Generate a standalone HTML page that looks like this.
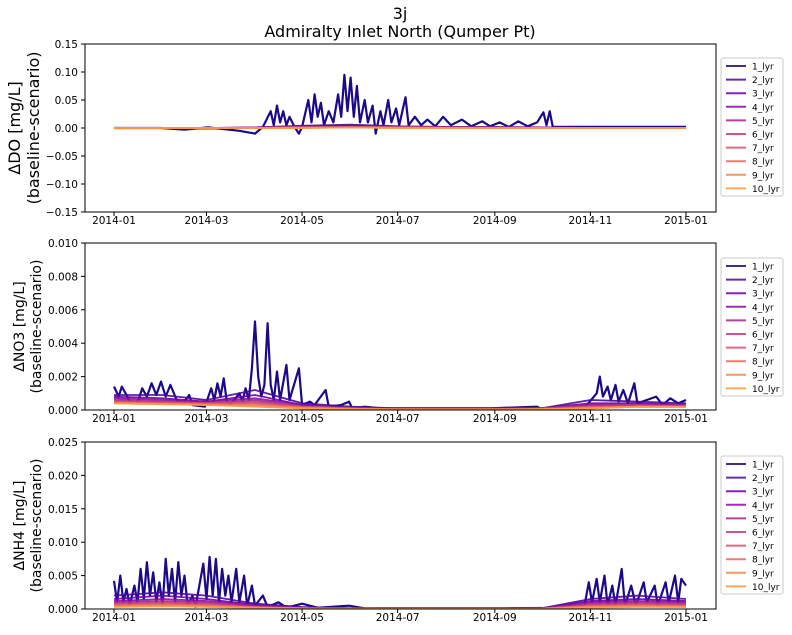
<!DOCTYPE html>
<html><head><meta charset="utf-8"><style>
body{margin:0;background:#fff;font-family:"DejaVu Sans","Liberation Sans",sans-serif}
svg text{font-family:"DejaVu Sans","Liberation Sans",sans-serif}
</style></head><body>
<svg id="fig" width="792" height="631" viewBox="0 0 792 631" xmlns="http://www.w3.org/2000/svg">
<text x="400" y="19" font-size="16" text-anchor="middle">3j</text>
<text x="400" y="37" font-size="16" text-anchor="middle">Admiralty Inlet North (Qumper Pt)</text>
</svg>
<script>
const xTickLabels=["2014-01","2014-03","2014-05","2014-07","2014-09","2014-11","2015-01"];
const xTickDays=[0,59,120,181,243,304,365];
const monthDays=[0,31,59,90,120,151,181,212,243,273,304,334,365];
const layerNames=["1_lyr","2_lyr","3_lyr","4_lyr","5_lyr","6_lyr","7_lyr","8_lyr","9_lyr","10_lyr"];
const layerColors=["#1a0a8a","#4a08a0","#6a00a8","#8a0ca5","#a8238f","#c03a7f","#d4526e","#e66b5d","#f2844b","#f99b3e"];

const doL1=[[0,0],[30,0],[45,-0.003],[60,0.001],[80,-0.005],[90,-0.01],[95,0.002],[100,0.03],[102,0.005],[104,0.04],[106,0.01],[108,0.03],[110,0.005],[112,0.02],[115,0.003],[118,-0.01],[120,0.002],[124,0.05],[126,0.01],[128,0.06],[130,0.02],[132,0.045],[134,0.005],[137,0.03],[140,0.01],[143,0.06],[145,0.02],[147,0.095],[149,0.03],[151,0.09],[153,0.02],[155,0.075],[157,0.01],[160,0.05],[162,0.01],[165,0.04],[167,-0.01],[170,0.03],[172,0.005],[175,0.05],[177,0.01],[180,0.035],[182,0.005],[186,0.055],[188,0.005],[192,0.02],[196,0.005],[200,0.015],[205,0.003],[210,0.02],[215,0.005],[222,0.015],[228,0.003],[235,0.012],[240,0.003],[246,0.01],[252,0.002],[258,0.012],[264,0.003],[270,0.01],[274,0.028],[276,0.005],[278,0.03],[280,0.002],[290,0.002],[365,0.002]];
const no3L1=[[0,0.0014],[3,0.0008],[5,0.0014],[8,0.0009],[10,0.0005],[15,0.0004],[18,0.0013],[21,0.0008],[24,0.0016],[27,0.0009],[30,0.0017],[33,0.0008],[36,0.0015],[40,0.0006],[44,0.0004],[48,0.0009],[50,0.0003],[58,0.0002],[62,0.0013],[64,0.0006],[66,0.0016],[68,0.0008],[70,0.0019],[72,0.0005],[74,0.0003],[80,0.001],[82,0.0005],[84,0.0013],[86,0.0006],[88,0.0025],[90,0.0053],[92,0.002],[94,0.0008],[96,0.0015],[98,0.0052],[100,0.0015],[102,0.0006],[104,0.0023],[106,0.0006],[110,0.0027],[112,0.0006],[118,0.0025],[120,0.0003],[125,0.0005],[128,0.0003],[135,0.0012],[137,0.0002],[145,0.0003],[150,0.0005],[152,0.0001],[160,0.0002],[170,0.0001],[200,0.0001],[240,0.0001],[270,0.0002],[272,0.0001],[300,0.0001],[308,0.001],[310,0.002],[312,0.0008],[315,0.0014],[317,0.0006],[320,0.0015],[322,0.0005],[325,0.0012],[328,0.0004],[332,0.0016],[334,0.0004],[340,0.0006],[346,0.0008],[350,0.0003],[355,0.0007],[360,0.0004],[365,0.0006]];
const nh4L1=[[0,0.0042],[2,0.001],[4,0.005],[6,0.001],[8,0.003],[10,0.0005],[13,0.0035],[15,0.001],[17,0.006],[19,0.0015],[21,0.007],[23,0.002],[25,0.0055],[27,0.001],[29,0.004],[31,0.0005],[33,0.0075],[35,0.002],[37,0.006],[39,0.001],[41,0.007],[43,0.002],[45,0.005],[47,0.0005],[50,0.002],[52,0.0003],[57,0.0068],[59,0.0015],[61,0.0078],[63,0.002],[65,0.0075],[67,0.001],[69,0.006],[71,0.002],[73,0.005],[75,0.001],[78,0.006],[80,0.001],[83,0.005],[85,0.0005],[88,0.0035],[90,0.0005],[95,0.002],[98,0.0003],[105,0.001],[110,0.0002],[120,0.0008],[130,0.0002],[150,0.0005],[160,0.0001],[200,0.0001],[250,0.0001],[300,0.0002],[303,0.004],[305,0.001],[308,0.0045],[310,0.001],[313,0.005],[315,0.0005],[318,0.0035],[320,0.0005],[324,0.006],[326,0.0005],[330,0.0035],[333,0.0005],[338,0.004],[340,0.001],[345,0.0035],[347,0.0005],[352,0.004],[354,0.001],[358,0.005],[360,0.001],[362,0.0045],[365,0.0035]];

const doLayers=[
[0,0,-0.001,0.001,0.004,0.006,0.003,0.002,0.002,0.001,0,0,0],
[0,0,-0.001,0.001,0.003,0.004,0.002,0.002,0.001,0.001,0,0,0],
[0,0,0,0.001,0.002,0.003,0.002,0.001,0.001,0.001,0,0,0],
[0,0,0,0.001,0.002,0.002,0.002,0.001,0.001,0,0,0,0],
[0,0,0,0,0.001,0.002,0.001,0.001,0.001,0,0,0,0],
[0,0,0,0,0.001,0.001,0.001,0.001,0,0,0,0,0],
[0,0,0,0,0.001,0.001,0.001,0,0,0,0,0,0],
[0,0,0,0,0,0.001,0,0,0,0,0,0,0],
[0,0,0,0,0,0.001,0,0,0,0,0,0,0]];
const no3Layers=[
[0.0009,0.0009,0.0006,0.0012,0.0004,0.0002,0.0001,0.0001,0.0001,0.0001,0.0006,0.0005,0.0004],
[0.0008,0.0007,0.0005,0.0009,0.0003,0.0001,0.0001,0.0001,0.0001,0.0001,0.0004,0.0004,0.0003],
[0.0007,0.0006,0.0005,0.0007,0.0003,0.0001,0.0001,0.0001,0.0001,0.0001,0.0003,0.0003,0.0003],
[0.0006,0.0005,0.0004,0.0006,0.0002,0.0001,0.00005,0.00005,0.00005,0.0001,0.0003,0.0003,0.0003],
[0.0005,0.0005,0.0004,0.0005,0.0002,0.0001,0.00005,0.00005,0.00005,0.0001,0.0002,0.0003,0.0002],
[0.0005,0.0004,0.0004,0.0004,0.0002,0.0001,0.00005,0.00005,0.00005,0.00005,0.0002,0.0002,0.0002],
[0.00045,0.0004,0.00035,0.0003,0.00015,0.00008,0.00004,0.00004,0.00004,0.00005,0.00015,0.0002,0.0002],
[0.0004,0.00035,0.0003,0.00025,0.0001,0.00006,0.00003,0.00003,0.00003,0.00005,0.0001,0.0002,0.0002],
[0.0004,0.00035,0.0003,0.0002,0.0001,0.00005,0.00003,0.00003,0.00003,0.00005,0.0001,0.0002,0.0002]];
const nh4Layers=[
[0.002,0.0025,0.002,0.0008,0.0003,0.0001,0.0001,0.0001,0.0001,0.0001,0.0015,0.002,0.0015],
[0.0015,0.002,0.0015,0.0006,0.0002,0.0001,0.0001,0.0001,0.0001,0.0001,0.0012,0.0015,0.0012],
[0.0012,0.0015,0.0012,0.0005,0.0002,0.0001,0.00005,0.00005,0.00005,0.0001,0.001,0.0012,0.001],
[0.001,0.0012,0.001,0.0004,0.0001,0.00005,0.00005,0.00005,0.00005,0.00005,0.0008,0.001,0.0008],
[0.0008,0.001,0.0008,0.0003,0.0001,0.00005,0.00005,0.00005,0.00005,0.00005,0.0006,0.0008,0.0007],
[0.0006,0.0008,0.0006,0.0003,0.0001,0.00005,0.00003,0.00003,0.00003,0.00005,0.0005,0.0006,0.0005],
[0.0005,0.0006,0.0005,0.0002,0.0001,0.00004,0.00003,0.00003,0.00003,0.00004,0.0004,0.0005,0.0004],
[0.0004,0.0005,0.0004,0.0002,0.0001,0.00003,0.00002,0.00002,0.00002,0.00003,0.0003,0.0004,0.0003],
[0.0003,0.0004,0.0003,0.00015,0.00008,0.00003,0.00002,0.00002,0.00002,0.00003,0.0002,0.0003,0.0003]];

const doTicks=["0.15","0.10","0.05","0.00","−0.05","−0.10","−0.15"];
const doTickVals=[0.15,0.1,0.05,0,-0.05,-0.1,-0.15];
const no3Ticks=["0.010","0.008","0.006","0.004","0.002","0.000"];
const no3TickVals=[0.01,0.008,0.006,0.004,0.002,0];
const nh4Ticks=["0.025","0.020","0.015","0.010","0.005","0.000"];
const nh4TickVals=[0.025,0.02,0.015,0.01,0.005,0];

const NS="http://www.w3.org/2000/svg";
const svg=document.getElementById('fig');
function mk(tag,attrs,parent){const e=document.createElementNS(NS,tag);for(const k in attrs)e.setAttribute(k,attrs[k]);(parent||svg).appendChild(e);return e;}
const X0=85,X1=716;
function xScale(d){return 114+d*(686-114)/365;}

const panels=[
 {key:"do",top:44,bot:212,min:-0.15,max:0.15,l1:doL1,layers:doLayers,ticks:doTicks,tv:doTickVals,lab1:"ΔDO [mg/L]",lab2:"(baseline-scenario)",fs:16,lx:[20,39],xl:224,leg:58},
 {key:"no3",top:243,bot:410,min:0,max:0.01,l1:no3L1,layers:no3Layers,ticks:no3Ticks,tv:no3TickVals,lab1:"ΔNO3 [mg/L]",lab2:"(baseline-scenario)",fs:14,lx:[24,41],xl:422,leg:258},
 {key:"nh4",top:442,bot:609,min:0,max:0.025,l1:nh4L1,layers:nh4Layers,ticks:nh4Ticks,tv:nh4TickVals,lab1:"ΔNH4 [mg/L]",lab2:"(baseline-scenario)",fs:14,lx:[24,41],xl:621,leg:456}
];
panels.forEach(p=>{
 const g=mk('g',{});
 
 
 const y=v=>p.bot-(v-p.min)/(p.max-p.min)*(p.bot-p.top);
 const cp=mk('clipPath',{id:'clip-'+p.key},g);mk('rect',{x:X0,y:p.top,width:X1-X0,height:p.bot-p.top},cp);
 const lines=mk('g',{'clip-path':'url(#clip-'+p.key+')'},g);
 const l1=mk('polyline',{points:p.l1.map(q=>xScale(q[0]).toFixed(1)+','+y(q[1]).toFixed(1)).join(' '),fill:'none',stroke:layerColors[0],'stroke-width':2.2,'stroke-linejoin':'round'},lines);
 
 
 p.layers.forEach((arr,i)=>{
  const pl=mk('polyline',{points:arr.map((v,j)=>xScale(monthDays[j]).toFixed(1)+','+y(v).toFixed(1)).join(' '),fill:'none',stroke:layerColors[i+1],'stroke-width':1.8,opacity:0.9},lines);
  
  
 });
 const fr=mk('rect',{x:X0,y:p.top,width:X1-X0,height:p.bot-p.top,fill:'none',stroke:'#000','stroke-width':1},g);
 
 
 p.tv.forEach((v,i)=>{
  mk('line',{x1:X0-4,x2:X0,y1:y(v),y2:y(v),stroke:'#000'},g);
  const t=mk('text',{x:X0-7,y:y(v)+4,'font-size':10.5,'text-anchor':'end'},g);t.textContent=p.ticks[i];
  
  
 });
 xTickDays.forEach((d,i)=>{
  mk('line',{x1:xScale(d),x2:xScale(d),y1:p.bot,y2:p.bot+4,stroke:'#000'},g);
  const t=mk('text',{x:xScale(d),y:p.xl,'font-size':10.5,'text-anchor':'middle'},g);t.textContent=xTickLabels[i];
  
  
 });
 const cy=(p.top+p.bot)/2;
 [p.lab1,p.lab2].forEach((s,k)=>{
  const t=mk('text',{x:p.lx[k],y:cy,'font-size':p.fs,'text-anchor':'middle',transform:`rotate(-90 ${p.lx[k]} ${cy})`},g);t.textContent=s;
  
  
 });
 const lg=mk('g',{},g);
 
 
 mk('rect',{x:721,y:p.leg,width:62,height:138,rx:2,fill:'#fff',stroke:'#ccc'},lg);
 layerNames.forEach((n,i)=>{
  const yy=p.leg+8+i*13.6;
  const e=mk('g',{},lg);
  
  
  mk('line',{x1:726,x2:746,y1:yy,y2:yy,stroke:layerColors[i],'stroke-width':2,opacity:0.85},e);
  const t=mk('text',{x:752,y:yy+3.5,'font-size':9},e);t.textContent=n;
 });
});
</script>
</body></html>
